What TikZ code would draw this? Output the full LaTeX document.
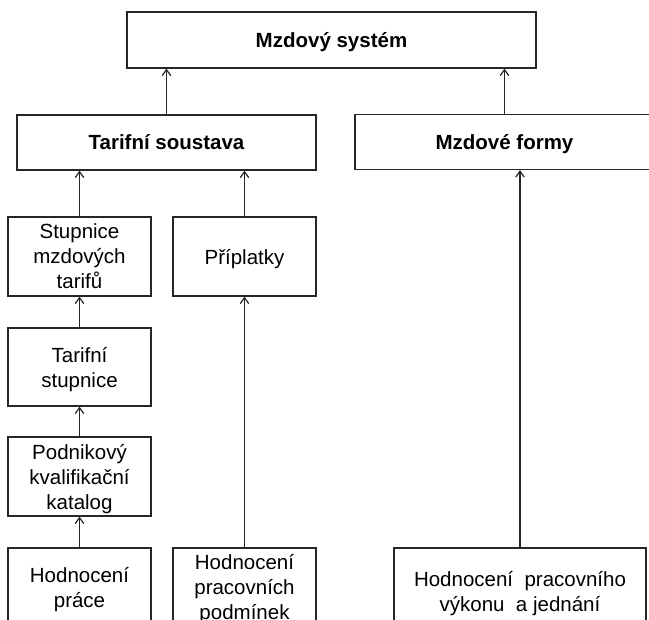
\documentclass[tikz,border=0pt]{standalone}
\usepackage{fontspec}
\setmainfont{Liberation Sans}
\usetikzlibrary{arrows.meta}
\tikzset{
  box/.style={draw=black!85, line width=1.2pt, rectangle, inner sep=0pt, align=center,
    text depth=0pt, font=\fontsize{20.5}{25}\selectfont},
  boldbox/.style={box, text height=14.7pt, font=\fontsize{20.5}{25}\selectfont\bfseries},
  arr/.style={draw=black!85, line width=1.2pt, -{Straight Barb[length=6pt,width=8.5pt]}}
}
\begin{document}
\begin{tikzpicture}[x=1pt,y=-1pt]
\useasboundingbox (0,0) rectangle (649,620);
\clip (0,0) rectangle (649,620);
\node[boldbox, minimum width=409pt, minimum height=56pt] (ms) at (331.5,40) {Mzdový systém};
\node[boldbox, minimum width=299pt, minimum height=55pt] (tar) at (166.5,142.5) {Tarifní soustava};
\node[boldbox, minimum width=299pt, minimum height=55pt] (mf) at (504.5,142) {Mzdové formy};
\node[box, minimum width=143pt, minimum height=79pt] (stup) at (79.5,256.5) {Stupnice\\mzdových\\tarifů};
\node[box, minimum width=143pt, minimum height=79pt] (pri) at (244.5,256.5) {Příplatky};
\node[box, minimum width=143pt, minimum height=78pt] (ts) at (79.5,367) {Tarifní\\stupnice};
\node[box, minimum width=143pt, minimum height=79pt] (pk) at (79.5,476.5) {Podnikový\\kvalifikační\\katalog};
\node[box, minimum width=143pt, minimum height=78pt] (hp) at (79.5,587) {Hodnocení\\práce};
\node[box, minimum width=143pt, minimum height=78pt] (hpp) at (244.5,587) {Hodnocení\\pracovních\\podmínek};
\node[box, minimum width=252pt, minimum height=86pt] (hv) at (520,591) {Hodnocení\ \ pracovního\\výkonu\ \ a jednání};

\draw[arr] (tar.north) -- (tar.north |- ms.south);
\draw[arr] (mf.north) -- (mf.north |- ms.south);
\draw[arr] (stup.north) -- (stup.north |- tar.south);
\draw[arr] (pri.north) -- (pri.north |- tar.south);
\draw[arr] (hv.north) -- (hv.north |- mf.south);
\draw[arr] (ts.north) -- (stup.south);
\draw[arr] (pk.north) -- (ts.south);
\draw[arr] (hp.north) -- (pk.south);
\draw[arr] (hpp.north) -- (pri.south);
\end{tikzpicture}
\end{document}
